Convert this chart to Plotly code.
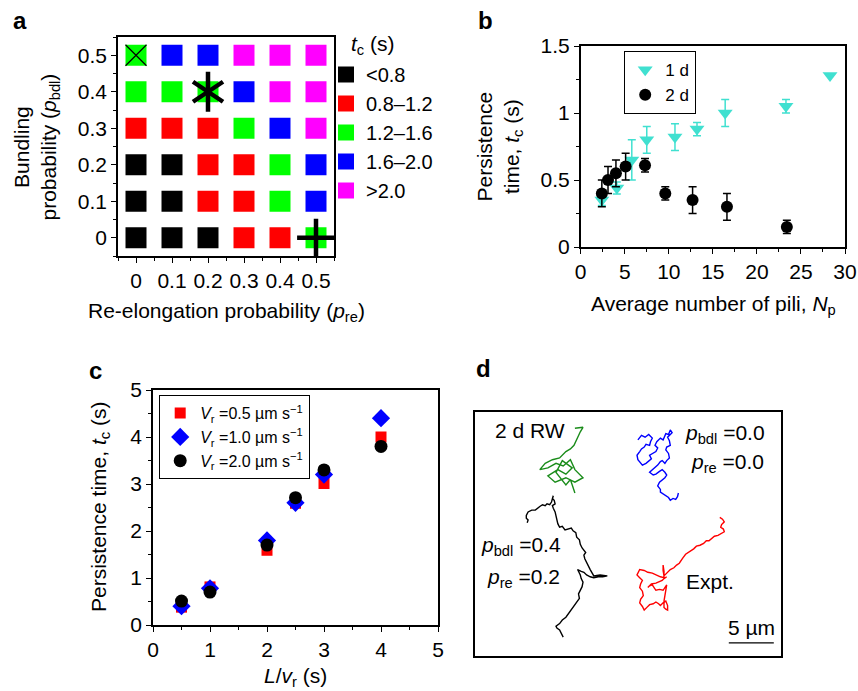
import plotly.graph_objects as go

FONT = "Liberation Sans, Arial, Helvetica, sans-serif"

# ---------------- Panel a data ----------------
p_re = [0, 0.1, 0.2, 0.3, 0.4, 0.5]
p_bdl = [0, 0.1, 0.2, 0.3, 0.4, 0.5]
tick_text_a = ["0", "0.1", "0.2", "0.3", "0.4", "0.5"]
tc_classes = ["<0.8", "0.8–1.2", "1.2–1.6", "1.6–2.0", ">2.0"]
class_colors = ["#000000", "#ff0000", "#00ff00", "#0000ff", "#ff00ff"]
# rows: p_bdl ascending; columns: p_re ascending; value = index into tc_classes
tc_class_grid = [
    [0, 0, 0, 1, 1, 2],
    [0, 0, 1, 1, 2, 3],
    [0, 0, 1, 1, 2, 3],
    [1, 1, 1, 2, 3, 4],
    [2, 2, 2, 3, 4, 4],
    [2, 3, 3, 4, 4, 4],
]
# highlighted parameter sets (x: 2 d RW, asterisk: simulation in d, plus: other)
mark_x = [0.0, 0.2, 0.2, 0.5]
mark_y = [0.5, 0.4, 0.4, 0.0]
mark_symbols = ["x-thin", "y-up", "y-down", "cross-thin"]
mark_sizes = [21, 25, 25, 27]
mark_widths = [1.2, 4.5, 4.5, 4.5]

# ---------------- Panel b data ----------------
np_1d = [2.4, 4.1, 5.8, 7.5, 10.7, 13.2, 16.4, 23.3, 28.3]
tc_1d = [0.35, 0.44, 0.65, 0.80, 0.82, 0.88, 1.00, 1.05, 1.28]
err_1d = [0.04, 0.045, 0.15, 0.10, 0.10, 0.05, 0.10, 0.05, 0.0]
np_2d = [2.4, 3.1, 4.0, 5.1, 7.3, 9.6, 12.7, 16.6, 23.4]
tc_2d = [0.40, 0.50, 0.55, 0.60, 0.61, 0.40, 0.35, 0.30, 0.15]
err_2d = [0.10, 0.10, 0.10, 0.10, 0.05, 0.05, 0.10, 0.10, 0.05]
tick_text_b = ["0", "0.5", "1", "1.5"]
tick_vals_b = [0, 0.5, 1, 1.5]

# ---------------- Panel c data ----------------
L_over_vr = [0.5, 1, 2, 2.5, 3, 4]
tc_v05 = [0.38, 0.81, 1.59, 2.59, 3.01, 4.00]
tc_v10 = [0.40, 0.78, 1.80, 2.60, 3.20, 4.40]
tc_v20 = [0.51, 0.70, 1.70, 2.71, 3.30, 3.80]

# ---------------- Panel d data (trajectories, um) ----------------
rw_x = [11.1, 12.0, 11.7, 11.4, 11.0, 10.6, 10.1, 9.4, 8.6, 7.8, 7.2, 8.1, 9.0, 9.8, 10.6, 11.1,
        12.0, 11.1, 10.1, 8.9, 8.1, 9.2, 10.1, 10.8, 9.7, 9.0, 10.1, 10.6, 11.1]
rw_y = [25.3, 25.4, 24.9, 24.3, 23.4, 23.0, 22.7, 22.0, 21.8, 21.4, 20.7, 20.9, 21.4, 21.1, 21.8, 20.7,
        19.8, 19.3, 19.8, 19.3, 20.0, 20.7, 20.2, 20.9, 21.7, 20.4, 19.0, 19.6, 18.1]
s00_x = [18.1, 18.5, 18.9, 19.3, 19.7, 19.5, 19.4, 19.0, 18.8, 18.5, 18.3, 18.0, 18.1, 18.4, 18.6,
         19.0, 19.2, 19.6, 19.4, 19.8, 20.1, 20.3, 20.0, 20.2, 20.6, 20.9, 21.2, 21.5, 21.7, 21.9,
         21.4, 21.6, 21.7, 21.3, 21.2, 21.5, 21.6, 21.3, 21.1, 20.8, 20.6, 20.3, 20.0, 19.7, 19.4,
         19.8, 20.1, 20.5, 20.8, 21.1, 21.3, 21.1, 20.9, 20.5, 20.3, 20.6, 20.6, 20.9, 21.2, 21.5,
         21.7, 22.0, 22.3, 22.5, 22.6]
s00_y = [24.0, 24.5, 24.3, 24.6, 24.2, 23.8, 23.4, 23.5, 23.2, 23.0, 22.7, 22.3, 21.8, 21.5, 21.2,
         21.4, 21.6, 21.9, 22.3, 22.5, 22.7, 23.1, 23.4, 23.8, 24.2, 24.0, 24.7, 24.6, 25.1, 24.8,
         24.3, 23.9, 23.4, 23.2, 22.9, 22.5, 22.0, 21.7, 21.4, 21.7, 21.6, 21.2, 20.9, 20.7, 20.4,
         20.1, 20.2, 20.5, 20.7, 20.4, 20.1, 19.8, 19.6, 19.3, 18.9, 18.5, 18.2, 18.0, 17.8, 17.6,
         17.3, 17.5, 17.4, 17.7, 18.1]
s42_x = [9.8, 9.6, 9.4, 9.1, 9.0, 9.4, 9.7, 10.1, 10.3, 10.6, 10.8, 11.1, 11.3, 11.6, 11.5, 11.7,
         11.9, 12.0, 11.8, 11.7, 11.4, 11.8, 12.1, 12.4, 12.8, 13.2, 13.7, 14.2, 14.7, 13.9, 13.2,
         12.8, 12.6, 12.4, 12.2, 12.1, 12.3, 11.9, 11.7, 11.6, 11.3, 11.2, 10.9, 10.7, 10.3, 10.0,
         9.7, 9.4, 9.2, 9.1, 9.0, 8.9, 8.7, 8.6, 8.9, 8.8, 8.6, 8.7, 8.5, 8.3, 8.0, 7.8, 7.5, 7.2,
         6.9, 6.7, 6.3, 5.9, 5.7, 5.7, 5.9, 5.8]
s42_y = [2.1, 2.6, 2.9, 3.1, 3.3, 3.6, 4.0, 4.3, 4.6, 4.9, 5.3, 5.7, 6.0, 6.4, 6.9, 7.3,
         7.7, 8.2, 8.6, 9.0, 9.6, 9.4, 9.3, 9.0, 8.8, 8.7, 8.8, 8.8, 8.9, 9.0, 8.9,
         9.6, 10.0, 10.4, 10.8, 11.2, 11.5, 12.0, 12.4, 12.9, 13.2, 13.7, 13.9, 14.2, 14.1, 14.0,
         14.4, 14.3, 14.7, 15.1, 15.6, 16.0, 16.4, 16.7, 16.9, 17.3, 17.5, 17.8, 17.1, 16.8, 16.9,
         16.7, 16.8, 16.6, 16.4, 16.2, 16.2, 16.0, 15.6, 15.3, 15.1, 14.8]
expt_x = [27.2, 27.5, 27.7, 27.4, 27.3, 27.6, 27.7, 27.3, 27.0, 26.6, 26.3, 26.0, 25.7, 25.4, 25.0,
          24.6, 24.3, 24.0, 23.7, 23.4, 23.1, 22.9, 22.7, 22.4, 22.1, 21.7, 21.4, 21.2, 21.0, 20.9,
          20.9, 21.0, 21.0, 20.6, 20.1, 19.7, 19.2, 18.8, 18.3, 18.1, 18.0, 18.3, 18.6, 18.4, 18.3,
          18.6, 18.7, 18.4, 18.3, 18.6, 18.8, 19.1, 19.4, 19.8, 20.1, 20.4, 20.6, 20.9, 21.2, 21.4,
          21.4, 21.2, 21.0, 21.0, 21.1, 21.2, 21.3, 21.1, 20.9, 20.5, 20.1, 19.9, 19.7, 19.4, 19.2,
          19.6, 20.1, 20.5, 20.8, 21.0, 21.3]
expt_y = [15.4, 15.2, 14.9, 14.6, 14.3, 14.1, 13.8, 13.6, 13.4, 13.3, 13.1, 12.8, 12.8, 12.5, 12.3,
          12.2, 11.9, 11.7, 11.4, 11.3, 10.9, 10.6, 10.3, 10.1, 9.8, 9.6, 9.3, 9.1, 8.9, 9.5,
          10.1, 9.4, 8.7, 8.8, 9.0, 9.2, 9.3, 9.5, 9.6, 9.3, 9.0, 8.7, 8.4, 8.0, 7.6,
          7.2, 6.7, 6.3, 5.9, 5.5, 5.1, 5.4, 5.7, 5.8, 6.0, 5.8, 5.6, 5.9, 6.1, 5.6,
          5.1, 5.2, 5.4, 6.1, 6.8, 7.4, 7.9, 7.6, 7.3, 7.4, 7.3, 7.6, 7.9, 7.8, 7.6,
          8.0, 8.1, 8.3, 8.4, 8.6, 8.8]
scalebar_x0 = 28.2
scalebar_len = 5.0
scalebar_y = 1.45

fig = go.Figure()

# ---- panel a traces ----
for k, (name, col) in enumerate(zip(tc_classes, class_colors)):
    xs, ys = [], []
    for i, yv in enumerate(p_bdl):
        for j, xv in enumerate(p_re):
            if tc_class_grid[i][j] == k:
                xs.append(xv)
                ys.append(yv)
    fig.add_trace(go.Scatter(
        x=xs, y=ys, mode="markers", name=name, legend="legend",
        marker=dict(symbol="square", size=21, color=col, line=dict(width=0)),
        xaxis="x", yaxis="y"))
for mx, my, ms, sz, lw in zip(mark_x, mark_y, mark_symbols, mark_sizes, mark_widths):
    fig.add_trace(go.Scatter(
        x=[mx], y=[my], mode="markers", showlegend=False,
        marker=dict(symbol=ms, size=sz, color="black", line=dict(width=lw, color="black")),
        xaxis="x", yaxis="y"))

# ---- panel b traces ----
fig.add_trace(go.Scatter(
    x=np_1d, y=tc_1d, mode="markers", name="1 d", legend="legend2",
    marker=dict(symbol="triangle-down", size=13, color="#40e0d0"),
    error_y=dict(type="data", array=err_1d, color="#40e0d0", thickness=1.5, width=4),
    xaxis="x2", yaxis="y2"))
fig.add_trace(go.Scatter(
    x=np_2d, y=tc_2d, mode="markers", name="2 d", legend="legend2",
    marker=dict(symbol="circle", size=12, color="black"),
    error_y=dict(type="data", array=err_2d, color="black", thickness=1.5, width=4),
    xaxis="x2", yaxis="y2"))

# ---- panel c traces ----
fig.add_trace(go.Scatter(
    x=L_over_vr, y=tc_v05, mode="markers", name="<i>V</i><sub>r</sub> =0.5 µm s<sup>−1</sup>",
    legend="legend3", marker=dict(symbol="square", size=11, color="#ff0000"),
    xaxis="x3", yaxis="y3"))
fig.add_trace(go.Scatter(
    x=L_over_vr, y=tc_v10, mode="markers", name="<i>V</i><sub>r</sub> =1.0 µm s<sup>−1</sup>",
    legend="legend3", marker=dict(symbol="diamond", size=14, color="#0000ff"),
    xaxis="x3", yaxis="y3"))
fig.add_trace(go.Scatter(
    x=L_over_vr, y=tc_v20, mode="markers", name="<i>V</i><sub>r</sub> =2.0 µm s<sup>−1</sup>",
    legend="legend3", marker=dict(symbol="circle", size=13, color="black"),
    xaxis="x3", yaxis="y3"))

# ---- panel d traces ----
for tx, ty, col in [(rw_x, rw_y, "#1a8c1a"), (s00_x, s00_y, "#0000ff"),
                    (s42_x, s42_y, "#000000"), (expt_x, expt_y, "#ff0000")]:
    fig.add_trace(go.Scatter(x=tx, y=ty, mode="lines", showlegend=False,
                             line=dict(color=col, width=1.4), xaxis="x4", yaxis="y4"))
fig.add_trace(go.Scatter(x=[scalebar_x0, scalebar_x0 + scalebar_len], y=[scalebar_y, scalebar_y],
                         mode="lines", showlegend=False, line=dict(color="black", width=1.3),
                         xaxis="x4", yaxis="y4"))

W, H = 858, 691
def px(x):
    return x / W
def py(y):
    return 1 - y / H

TS = 21  # main text size

axis_common = dict(showline=True, linecolor="black", linewidth=1.5, mirror=True,
                   ticks="outside", ticklen=5, tickwidth=1.3, tickcolor="black",
                   showgrid=False, zeroline=False, automargin=False,
                   tickfont=dict(family=FONT, size=TS, color="black"))
minor_common = dict(ticklen=3, tickwidth=1.2, tickcolor="black", ticks="outside", showgrid=False)

layout = dict(
    template="none",
    width=W, height=H, margin=dict(l=0, r=0, t=0, b=0, pad=0, autoexpand=False),
    paper_bgcolor="white", plot_bgcolor="white",
    font=dict(family=FONT, size=TS, color="black"),
    xaxis=dict(domain=[px(118), px(334)], range=[-0.05, 0.55], anchor="y",
               tickvals=p_re, ticktext=tick_text_a,
               minor=dict(dtick=0.05, tick0=-0.05, **minor_common), **axis_common),
    yaxis=dict(domain=[py(256), py(37)], range=[-0.05, 0.55], anchor="x",
               tickvals=p_bdl, ticktext=tick_text_a,
               minor=dict(dtick=0.05, tick0=-0.05, **minor_common), **axis_common),
    xaxis2=dict(domain=[px(580.7), px(845)], range=[0, 30], anchor="y2", dtick=5, tick0=0,
                minor=dict(dtick=2.5, **minor_common), **axis_common),
    yaxis2=dict(domain=[py(247), py(46)], range=[0, 1.5], anchor="x2",
                tickvals=tick_vals_b, ticktext=tick_text_b,
                minor=dict(dtick=0.25, tick0=0, **minor_common), **axis_common),
    xaxis3=dict(domain=[px(153), px(438)], range=[0, 5], anchor="y3", dtick=1, tick0=0,
                minor=dict(dtick=0.5, **minor_common), **axis_common),
    yaxis3=dict(domain=[py(625), py(390)], range=[0, 5], anchor="x3", dtick=1, tick0=0,
                minor=dict(dtick=0.5, **minor_common), **axis_common),
    xaxis4=dict(domain=[px(475), px(781)], range=[0, 34], anchor="y4", automargin=False,
                showline=True, linecolor="black", linewidth=1.5, mirror=True,
                showticklabels=False, ticks="", showgrid=False, zeroline=False),
    yaxis4=dict(domain=[py(656), py(412)], range=[0, 27.1], anchor="x4", automargin=False,
                showline=True, linecolor="black", linewidth=1.5, mirror=True,
                showticklabels=False, ticks="", showgrid=False, zeroline=False),
    legend=dict(x=px(326), y=py(55), xanchor="left", yanchor="top",
                bgcolor="rgba(0,0,0,0)", borderwidth=0,
                font=dict(family=FONT, size=20, color="black"), tracegroupgap=0,
                itemsizing="trace"),
    legend2=dict(x=px(624), y=py(51), xanchor="left", yanchor="top",
                 bgcolor="white", bordercolor="black", borderwidth=1.2,
                 font=dict(family=FONT, size=17, color="black"), itemsizing="trace"),
    legend3=dict(x=px(159), y=py(395), xanchor="left", yanchor="top",
                 bgcolor="white", bordercolor="black", borderwidth=1.2,
                 font=dict(family=FONT, size=16, color="black"), itemsizing="trace"),
    showlegend=True,
)
fig.update_layout(**layout)

ann = []
def A(text, x, y, size=TS, angle=0, xanchor="center", bold=False, xref="paper", yref="paper"):
    ann.append(dict(text=("<b>%s</b>" % text) if bold else text, x=x, y=y, xref=xref, yref=yref,
                    xanchor=xanchor, yanchor="middle", showarrow=False, textangle=angle,
                    font=dict(family=FONT, size=size, color="black")))

# panel labels
A("a", px(19.5), py(20), size=24, bold=True)
A("b", px(485), py(20), size=24, bold=True)
A("c", px(95), py(370), size=24, bold=True)
A("d", px(483), py(368), size=24, bold=True)
# legend title of panel a
A("<i>t</i><sub>c</sub> (s)", px(373), py(45))
# axis titles
A("Bundling<br>probability (<i>p</i><sub>bdl</sub>)", px(36.5), py(147), angle=-90)
A("Re-elongation probability (<i>p</i><sub>re</sub>)", px(226), py(312))
A("Persistence<br>time, <i>t</i><sub>c</sub> (s)", px(499.5), py(147), angle=-90)
A("Average number of pili, <i>N</i><sub>p</sub>", px(713), py(305))
A("Persistence time, <i>t</i><sub>c</sub> (s)", px(100), py(507), angle=-90)
A("<i>L</i>/<i>v</i><sub>r</sub> (s)", px(295), py(677))
# panel d labels
A("2 d RW", 6.1, 25.1, xref="x4", yref="y4")
A("<i>p</i><sub>bdl</sub> =0.0", 32.4, 24.7, xanchor="right", xref="x4", yref="y4")
A("<i>p</i><sub>re</sub> =0.0", 32.3, 21.4, xanchor="right", xref="x4", yref="y4")
A("<i>p</i><sub>bdl</sub> =0.4", 9.8, 12.2, xanchor="right", xref="x4", yref="y4")
A("<i>p</i><sub>re</sub> =0.2", 9.7, 8.7, xanchor="right", xref="x4", yref="y4")
A("Expt.", 23.2, 8.3, xanchor="left", xref="x4", yref="y4")
A("5 µm", scalebar_x0 + scalebar_len / 2, 3.2, xref="x4", yref="y4")
fig.update_layout(annotations=ann)

fig.write_html("out.html",
               config={"displayModeBar": False},
               post_script="document.body.style.margin='0px';document.body.style.padding='0px';"
                           "document.body.style.overflow='hidden';")
